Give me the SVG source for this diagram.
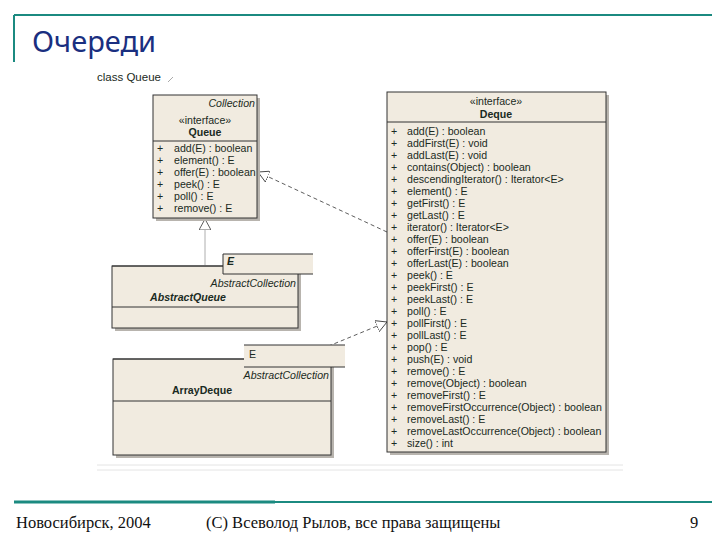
<svg xmlns="http://www.w3.org/2000/svg" width="720" height="540" viewBox="0 0 720 540">
<style>
.t{font-family:"Liberation Sans",Arial,sans-serif;font-size:10.6px;fill:#1a2a22}
.i{font-style:italic}
.b{font-weight:bold}
.box{fill:#f1ebe0;stroke:#333;stroke-width:1}
.sh{fill:#b8b4ae}
.sep{stroke:#333;stroke-width:1}
.con{fill:none;stroke:#333;stroke-width:0.8;stroke-dasharray:4,3}
.ft{font-family:"Liberation Serif","Times New Roman",serif;font-size:16.5px;fill:#111}
</style>
<defs>
<marker id="tri" viewBox="0 0 12 12" refX="11" refY="6" markerWidth="12" markerHeight="12" markerUnits="userSpaceOnUse" orient="auto">
<path d="M0,0 L11,6 L0,12 Z" fill="#fff" stroke="#333" stroke-width="0.8"/>
</marker>
</defs>
<rect width="720" height="540" fill="#fff"/>
<g id="frame">
<line x1="14" y1="15" x2="712" y2="15" stroke="#1b8a80" stroke-width="2"/>
<line x1="14" y1="15" x2="14" y2="62" stroke="#1b8a80" stroke-width="2"/>
<text x="32" y="52" font-family="'Noto Sans','DejaVu Sans',sans-serif" font-size="29" fill="#1a2f80">Очереди</text>
<line x1="97" y1="465" x2="623" y2="465" stroke="#e4e4e4"/>
<line x1="97" y1="470" x2="623" y2="470" stroke="#e4e4e4"/>
<line x1="14" y1="502" x2="275" y2="502" stroke="#1b8a80" stroke-width="3"/>
<line x1="275" y1="502" x2="712" y2="502" stroke="#1b8a80" stroke-width="2"/>
<text class="ft" x="16" y="528">Новосибирск, 2004</text>
<text class="ft" x="206" y="528">(С) Всеволод Рылов, все права защищены</text>
<text class="ft" x="690" y="528">9</text>
<text class="t" x="97" y="81" style="font-size:11.5px">class Queue</text>
<line x1="168" y1="82" x2="173" y2="77" stroke="#aaa"/>
</g>
<g id="connectors">
<line x1="205" y1="265" x2="205" y2="219" stroke="#999" stroke-width="0.8" marker-end="url(#tri)"/>
<line class="con" x1="387" y1="232" x2="258" y2="172" marker-end="url(#tri)"/>
<line class="con" x1="302" y1="357" x2="387" y2="322" marker-end="url(#tri)"/>
</g>
<g id="queue">
<rect class="sh" x="156" y="98" width="104" height="123"/>
<rect class="box" x="153" y="95" width="104" height="123"/>
<text class="t i" x="255" y="107" text-anchor="end">Collection</text>
<text class="t" x="205" y="124" text-anchor="middle">«interface»</text>
<text class="t b" x="205" y="136" text-anchor="middle">Queue</text>
<line class="sep" x1="153" y1="141" x2="257" y2="141"/>
<g class="t">
<text x="157" y="152">+</text><text x="174" y="152">add(E) : boolean</text>
<text x="157" y="164">+</text><text x="174" y="164">element() : E</text>
<text x="157" y="176">+</text><text x="174" y="176">offer(E) : boolean</text>
<text x="157" y="188">+</text><text x="174" y="188">peek() : E</text>
<text x="157" y="200">+</text><text x="174" y="200">poll() : E</text>
<text x="157" y="212">+</text><text x="174" y="212">remove() : E</text>
</g>
</g>
<g id="abstractqueue">
<rect class="sh" x="115" y="269" width="186" height="62"/>
<rect class="box" x="112" y="266" width="186" height="62" stroke="none"/>
<line class="sep" x1="112" y1="266" x2="298" y2="266"/>
<rect x="223" y="254" width="90" height="20" fill="#f1ebe0"/>
<polyline points="313,254 223,254 223,274 313,274" fill="none" stroke="#333"/>
<text class="t i b" x="227" y="265">E</text>
<text class="t i" x="296" y="287" text-anchor="end">AbstractCollection</text>
<text class="t i b" x="188" y="301" text-anchor="middle">AbstractQueue</text>
<line class="sep" x1="112" y1="307" x2="298" y2="307"/>
</g>
<g id="arraydeque">
<rect class="sh" x="116" y="362" width="218" height="96"/>
<rect class="box" x="113" y="359" width="218" height="96" stroke="none"/>
<line class="sep" x1="113" y1="359" x2="331" y2="359"/>
<rect x="244" y="345" width="101" height="22" fill="#f1ebe0"/>
<line class="sep" x1="244" y1="345" x2="345" y2="345"/>
<line class="sep" x1="244" y1="367" x2="345" y2="367"/>
<text class="t" x="249" y="358">E</text>
<text class="t i" x="329" y="379" text-anchor="end">AbstractCollection</text>
<text class="t b" x="202" y="394" text-anchor="middle">ArrayDeque</text>
<line class="sep" x1="113" y1="401" x2="331" y2="401"/>
</g>
<g id="deque">
<rect class="sh" x="390" y="95" width="219" height="360"/>
<rect class="box" x="387" y="92" width="219" height="360"/>
<text class="t" x="496" y="105" text-anchor="middle">«interface»</text>
<text class="t b" x="496" y="118" text-anchor="middle">Deque</text>
<line class="sep" x1="387" y1="122" x2="606" y2="122"/>
<g class="t">
<text x="391" y="135">+</text><text x="407" y="135">add(E) : boolean</text>
<text x="391" y="147">+</text><text x="407" y="147">addFirst(E) : void</text>
<text x="391" y="159">+</text><text x="407" y="159">addLast(E) : void</text>
<text x="391" y="171">+</text><text x="407" y="171">contains(Object) : boolean</text>
<text x="391" y="183">+</text><text x="407" y="183">descendingIterator() : Iterator&lt;E&gt;</text>
<text x="391" y="195">+</text><text x="407" y="195">element() : E</text>
<text x="391" y="207">+</text><text x="407" y="207">getFirst() : E</text>
<text x="391" y="219">+</text><text x="407" y="219">getLast() : E</text>
<text x="391" y="231">+</text><text x="407" y="231">iterator() : Iterator&lt;E&gt;</text>
<text x="391" y="243">+</text><text x="407" y="243">offer(E) : boolean</text>
<text x="391" y="255">+</text><text x="407" y="255">offerFirst(E) : boolean</text>
<text x="391" y="267">+</text><text x="407" y="267">offerLast(E) : boolean</text>
<text x="391" y="279">+</text><text x="407" y="279">peek() : E</text>
<text x="391" y="291">+</text><text x="407" y="291">peekFirst() : E</text>
<text x="391" y="303">+</text><text x="407" y="303">peekLast() : E</text>
<text x="391" y="315">+</text><text x="407" y="315">poll() : E</text>
<text x="391" y="327">+</text><text x="407" y="327">pollFirst() : E</text>
<text x="391" y="339">+</text><text x="407" y="339">pollLast() : E</text>
<text x="391" y="351">+</text><text x="407" y="351">pop() : E</text>
<text x="391" y="363">+</text><text x="407" y="363">push(E) : void</text>
<text x="391" y="375">+</text><text x="407" y="375">remove() : E</text>
<text x="391" y="387">+</text><text x="407" y="387">remove(Object) : boolean</text>
<text x="391" y="399">+</text><text x="407" y="399">removeFirst() : E</text>
<text x="391" y="411">+</text><text x="407" y="411">removeFirstOccurrence(Object) : boolean</text>
<text x="391" y="423">+</text><text x="407" y="423">removeLast() : E</text>
<text x="391" y="435">+</text><text x="407" y="435">removeLastOccurrence(Object) : boolean</text>
<text x="391" y="447">+</text><text x="407" y="447">size() : int</text>
</g>
</g>
</svg>
